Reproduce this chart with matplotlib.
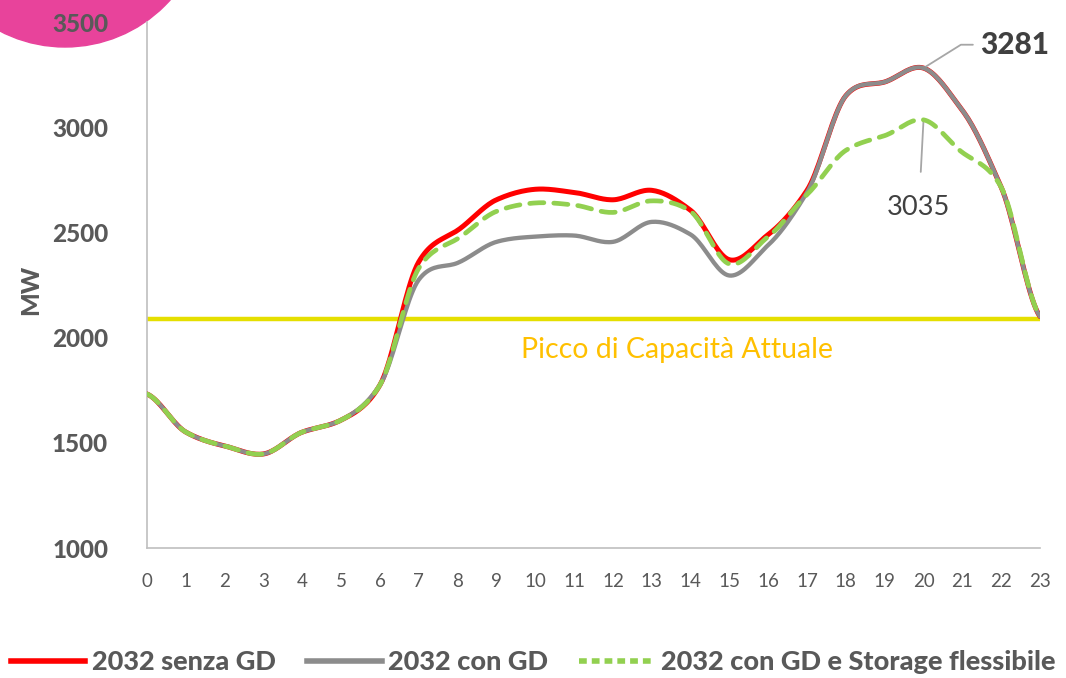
import numpy as np
import matplotlib
matplotlib.use("Agg")
import matplotlib.pyplot as plt
from matplotlib.patches import Ellipse
from matplotlib.lines import Line2D

hours = list(range(24))
senza_gd = [1732, 1551, 1485, 1447, 1551, 1608, 1775, 2360, 2510, 2655, 2705, 2690,
            2655, 2700, 2605, 2370, 2490, 2700, 3150, 3215, 3281, 3080, 2715, 2100]
con_gd = [1732, 1551, 1485, 1447, 1551, 1608, 1775, 2275, 2355, 2455, 2480, 2485,
          2455, 2550, 2490, 2295, 2440, 2690, 3150, 3215, 3281, 3080, 2715, 2100]
con_storage = [1732, 1551, 1485, 1447, 1551, 1608, 1775, 2330, 2470, 2600, 2640, 2630,
               2595, 2650, 2600, 2350, 2480, 2680, 2890, 2960, 3035, 2880, 2715, 2100]
capacity = 2090
y_ticks = [1000, 1500, 2000, 2500, 3000, 3500]
legend_labels = ["2032 senza GD", "2032 con GD", "2032 con GD e Storage flessibile"]


def smooth(x, y, n=20):
    x = np.asarray(x, float)
    y = np.asarray(y, float)
    xs, ys = [], []
    for i in range(len(x) - 1):
        p0 = y[i - 1] if i > 0 else y[i]
        p1, p2 = y[i], y[i + 1]
        p3 = y[i + 2] if i + 2 < len(y) else y[i + 1]
        t = np.linspace(0, 1, n, endpoint=False)
        m1 = (p2 - p0) / 2 * 0.85
        m2 = (p3 - p1) / 2 * 0.85
        h00 = 2 * t**3 - 3 * t**2 + 1
        h10 = t**3 - 2 * t**2 + t
        h01 = -2 * t**3 + 3 * t**2
        h11 = t**3 - t**2
        xs.append(x[i] + t * (x[i + 1] - x[i]))
        ys.append(h00 * p1 + h10 * m1 + h01 * p2 + h11 * m2)
    xs.append([x[-1]])
    ys.append([y[-1]])
    return np.concatenate(xs), np.concatenate(ys)


plt.rcParams['font.family'] = ['Lato', 'DejaVu Sans']
fig = plt.figure(figsize=(10.66, 6.78), dpi=100)
ax = fig.add_axes([147 / 1066, 1 - 548 / 678, (1040 - 147) / 1066, (548 - 22) / 678])
ax.set_facecolor('none')

# decorative pink circle
fig.add_artist(Ellipse((65 / 1066, 1 + 94 / 678), 282 / 1066, 282 / 678,
                       transform=fig.transFigure, color='#E8439B', zorder=0))

txt = '#595959'
ax.axhline(capacity, color='#E5DF00', lw=3.2, zorder=2)

sx, sy = smooth(hours, senza_gd)
ax.plot(sx, sy, color='#FF0000', lw=3.6, zorder=3, solid_capstyle='round')
gx, gy = smooth(hours, con_gd)
ax.plot(gx, gy, color='#8C8C8C', lw=3.1, zorder=4, solid_capstyle='round')
cx, cy = smooth(hours, con_storage)
ax.plot(cx, cy, color='#92D050', lw=3.4, zorder=5, dashes=(3.0, 2.1), dash_capstyle='round')

ax.set_xlim(0, 23)
ax.set_ylim(1000, 3500)
ax.set_xticks(hours)
ax.set_yticks(y_ticks)
ax.tick_params(length=0)
ax.tick_params(axis='x', labelsize=13.5, labelcolor=txt, pad=18)
ax.tick_params(axis='y', labelsize=17.5, labelcolor=txt, pad=28)
for lab in ax.get_yticklabels():
    lab.set_fontweight('black')
for s in ['top', 'right']:
    ax.spines[s].set_visible(False)
for s in ['left', 'bottom']:
    ax.spines[s].set_color('#BFBFBF')
    ax.spines[s].set_linewidth(1.2)

fig.text(31 / 1066, 1 - 290 / 678, 'MW', rotation=90, ha='center', va='center',
         fontsize=18, fontweight='black', color=txt)

ax.text(13.65, 1941, 'Picco di Capacità Attuale', color='#FFC000', fontsize=20.5,
        ha='center', va='center')

# annotations
peak_i = int(np.argmax(con_gd))
ax.annotate(str(con_gd[peak_i]), xy=(hours[peak_i], con_gd[peak_i]),
            xytext=(21.45, 3392), textcoords='data', fontsize=21.5, fontweight='black',
            color='#404040', ha='left', va='center',
            arrowprops=dict(arrowstyle='-', color='#A6A6A6', lw=1.3,
                            connectionstyle='angle,angleA=0,angleB=32,rad=0',
                            shrinkA=3, shrinkB=0))
st_i = int(np.argmax(con_storage))
ax.annotate(str(con_storage[st_i]), xy=(hours[st_i], con_storage[st_i]),
            xytext=(19.88, 2616), textcoords='data', fontsize=19.5,
            color='#404040', ha='center', va='center',
            arrowprops=dict(arrowstyle='-', color='#A6A6A6', lw=1.3,
                            shrinkA=15, shrinkB=0))

handles = [Line2D([], [], color='#FF0000', lw=4.0),
           Line2D([], [], color='#8C8C8C', lw=4.0),
           Line2D([], [], color='#92D050', lw=4.0, dashes=(1.4, 0.9))]
leg = fig.legend(handles, legend_labels, loc='center', bbox_to_anchor=(0.5, 1 - 662 / 678),
                 ncol=3, frameon=False, handlelength=2.75, handletextpad=0.25,
                 columnspacing=1.15, prop=dict(size=19.5, weight='black'))
for t in leg.get_texts():
    t.set_color(txt)

fig.savefig('out.png', dpi=100)
